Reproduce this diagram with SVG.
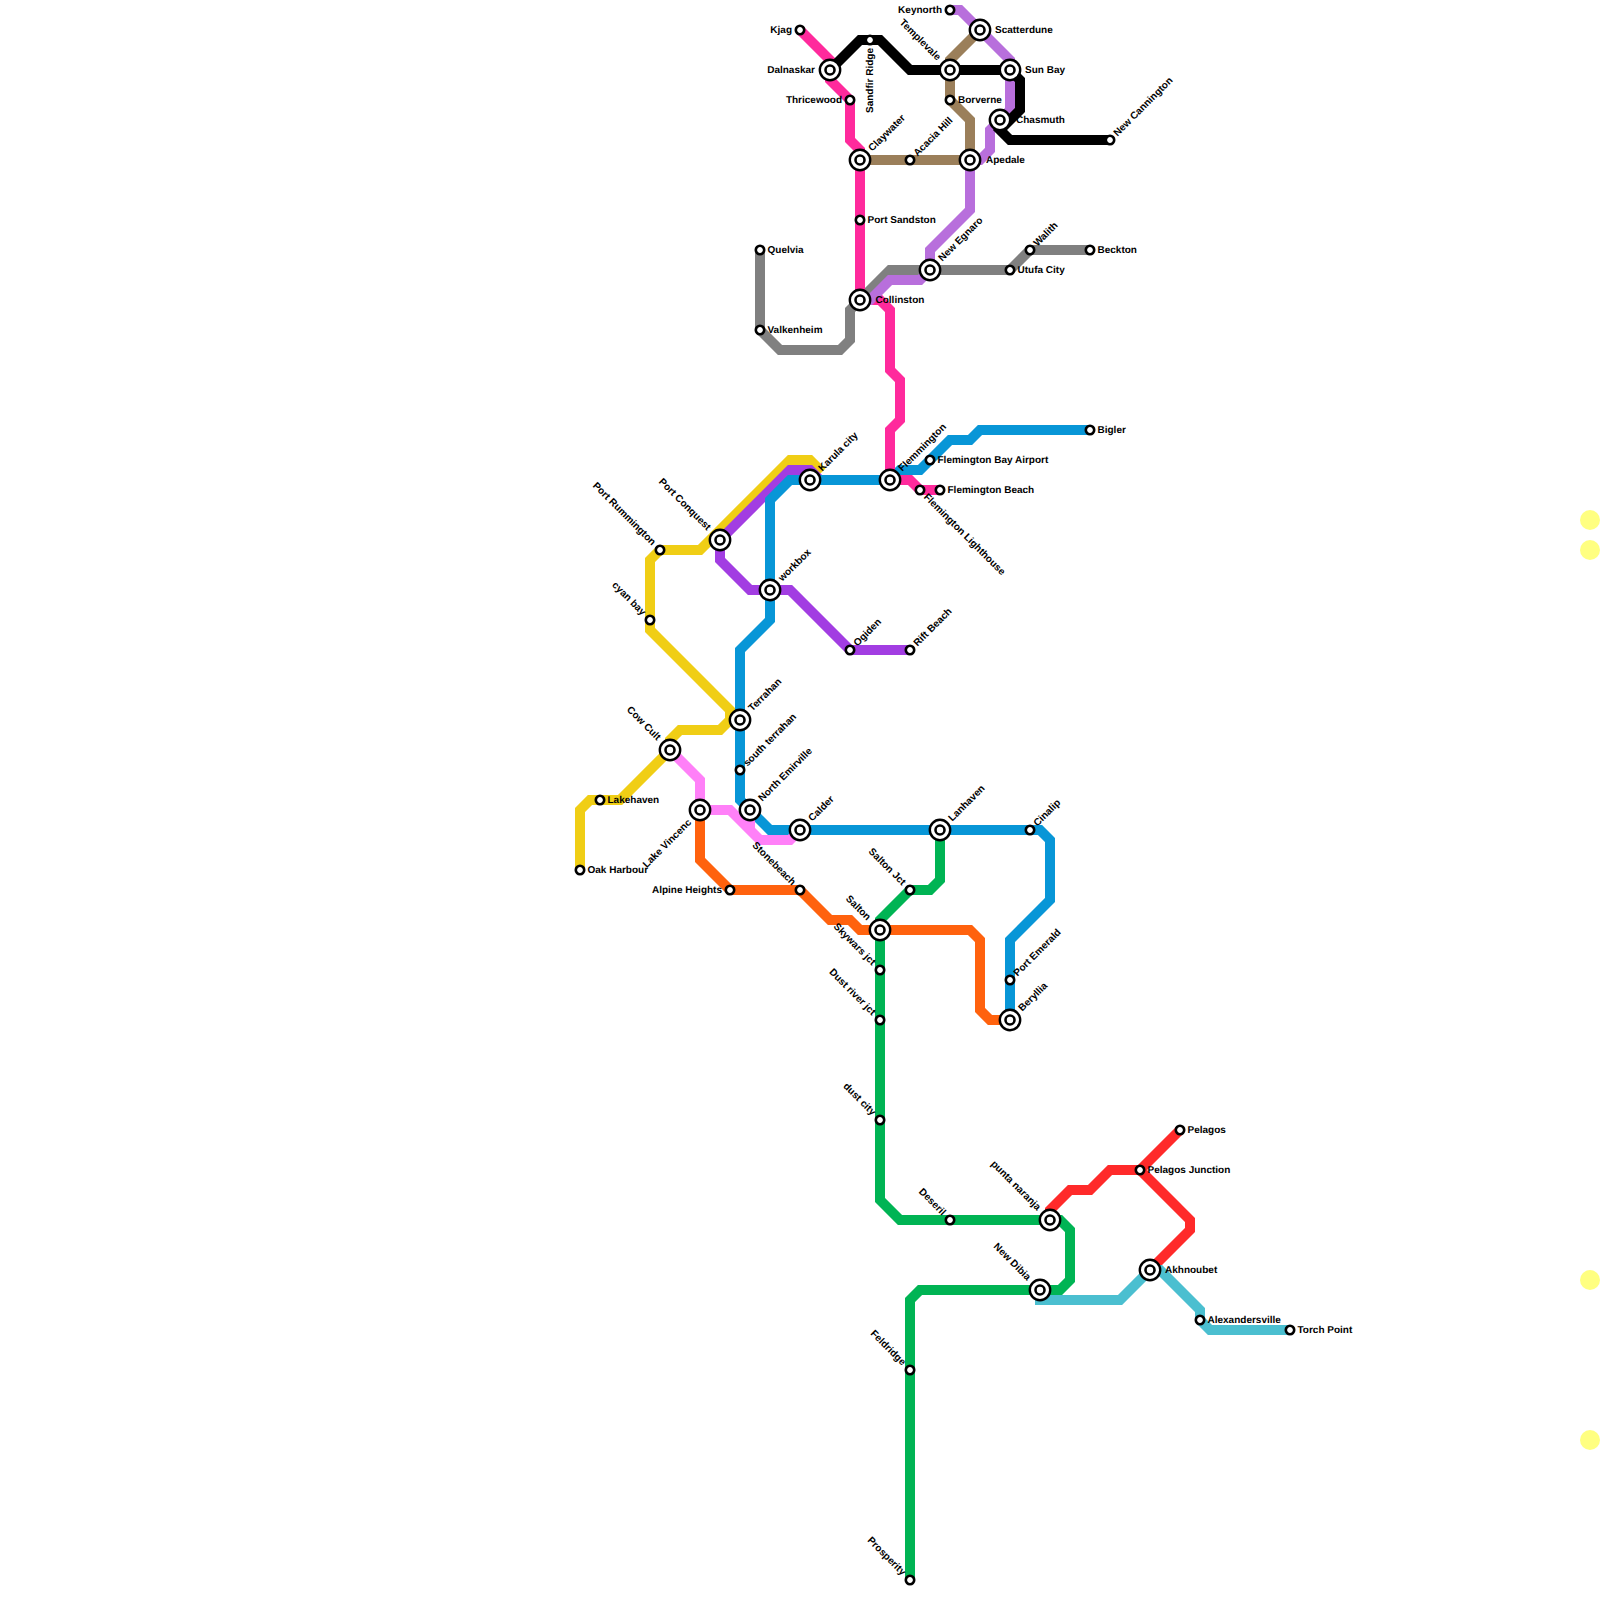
<svg xmlns="http://www.w3.org/2000/svg" width="1600" height="1600" viewBox="0 0 1600 1600">
<style>
.l{fill:none;stroke-width:10;stroke-linejoin:miter}
.s{fill:#fff;stroke:#000;stroke-width:2.600}
.o1{fill:#fff;stroke:#000;stroke-width:2.400}
.o2{fill:#fff;stroke:#000;stroke-width:2.600}
text{font-family:"Liberation Sans",Arial,sans-serif;font-size:10px;font-weight:bold;fill:#000;text-rendering:geometricPrecision}
.e{text-anchor:end}
.y{fill:#ffff80}
</style>
<defs>
<g id="st"><circle class="s" r="4.200"/></g>
<g id="ic"><circle class="o1" r="10.200"/><circle class="o2" r="4.500"/></g>
</defs>
<rect width="1600" height="1600" fill="#fff"/>
<circle class="y" cx="1590" cy="520" r="10"/>
<circle class="y" cx="1590" cy="550" r="10"/>
<circle class="y" cx="1590" cy="1280" r="10"/>
<circle class="y" cx="1590" cy="1440" r="10"/>
<g id="connectors">
<path class="l" stroke="#808080" d="M1090,250H1030L1010,270H890L860,300L850,310V340L840,350H780L760,330V250"/>
<path class="l" stroke="#f0ce15" d="M580,870V810L590,800H620L670,750V740L680,730H720L730,720V710L650,630V560L660,550H700L790,460H810L822,472"/>
<path class="l" stroke="#a23de2" d="M910,650H850L790,590H750L720,560V540L790,470H810L820,480"/>
<path class="l" stroke="#0896d7" d="M1090,430H980L970,440H950L920,470H900L890,480H790L770,500V620L740,650V800L770,830H1040L1050,840V900L1010,940V1020"/>
<path class="l" stroke="#ff2a9c" d="M800,30L830,60V80L850,100V140L860,150V300H880L890,310V370L900,380V420L890,430V480H910L920,490H940"/>
<path class="l" stroke="#b86fdc" d="M950,10H960L1010,60V110L990,130V150L980,160H970V210L930,250V270L920,280H890L870,300H860"/>
<path class="l" stroke="#9b7f5a" d="M980,30L950,60V100L970,120V160H860"/>
<path class="l" stroke="#000" d="M830,70L860,40H880L910,70H1010L1020,80V110L1000,130L1010,140H1110"/>
<path class="l" stroke="#ff80f8" d="M670,750L700,780V810H730L760,840H790L800,830M750,810V830"/>
<path class="l" stroke="#ff620e" d="M700,810V860L730,890H800L830,920H850L860,930H970L980,940V1010L990,1020H1010"/>
<path class="l" stroke="#00b454" d="M940,830V880L930,890H910L880,920V1200L900,1220H1060L1070,1230V1280L1060,1290H920L910,1300V1580"/>
<path class="l" stroke="#ff2a2a" d="M1050,1220V1210L1070,1190H1090L1110,1170H1140L1180,1130M1140,1170L1190,1220V1230L1150,1270"/>
<path class="l" stroke="#4bbfd0" d="M1040,1290V1300H1120L1150,1270H1160L1200,1310V1320L1210,1330H1290"/>
</g>
<g id="n-kjag"><use href="#st" x="800" y="30"/><text class="e" x="792" y="32.500">Kjag</text></g>
<g id="n-dalnaskar"><use href="#ic" x="830" y="70"/><text class="e" x="815" y="72.500">Dalnaskar</text></g>
<g id="n-thricewood"><use href="#st" x="850" y="100"/><text class="e" x="842" y="102.500">Thricewood</text></g>
<g id="n-sandfir"><use href="#st" x="870" y="40"/><text class="e" transform="translate(870,40) rotate(-90)" x="-8" y="3">Sandfir Ridge</text></g>
<g id="n-keynorth"><use href="#st" x="950" y="10"/><text class="e" x="942" y="12.500">Keynorth</text></g>
<g id="n-scatterdune"><use href="#ic" x="980" y="30"/><text x="995" y="32.500">Scatterdune</text></g>
<g id="n-templevale"><use href="#ic" x="950" y="70"/><text class="e" transform="translate(950,70) rotate(45)" x="-15.700" y="2.800">Templevale</text></g>
<g id="n-sunbay"><use href="#ic" x="1010" y="70"/><text x="1025" y="72.500">Sun Bay</text></g>
<g id="n-borverne"><use href="#st" x="950" y="100"/><text x="958" y="102.500">Borverne</text></g>
<g id="n-chasmuth"><use href="#ic" x="1000" y="120"/><text x="1016" y="122.500">Chasmuth</text></g>
<g id="n-newcannington"><use href="#st" x="1110" y="140"/><text transform="translate(1110,140) rotate(-45)" x="7.500" y="3">New Cannington</text></g>
<g id="n-claywater"><use href="#ic" x="860" y="160"/><text transform="translate(860,160) rotate(-45)" x="14.500" y="3">Claywater</text></g>
<g id="n-acacia"><use href="#st" x="910" y="160"/><text transform="translate(910,160) rotate(-45)" x="7.500" y="3">Acacia Hill</text></g>
<g id="n-apedale"><use href="#ic" x="970" y="160"/><text x="986" y="162.500">Apedale</text></g>
<g id="n-portsandston"><use href="#st" x="860" y="220"/><text x="867.500" y="222.500">Port Sandston</text></g>
<g id="n-quelvia"><use href="#st" x="760" y="250"/><text x="767.500" y="252.500">Quelvia</text></g>
<g id="n-walith"><use href="#st" x="1030" y="250"/><text transform="translate(1030,250) rotate(-45)" x="7.500" y="3">Walith</text></g>
<g id="n-beckton"><use href="#st" x="1090" y="250"/><text x="1097.500" y="252.500">Beckton</text></g>
<g id="n-newegnaro"><use href="#ic" x="930" y="270"/><text transform="translate(930,270) rotate(-45)" x="14.500" y="3">New Egnaro</text></g>
<g id="n-utufa"><use href="#st" x="1010" y="270"/><text x="1017.500" y="272.500">Utufa City</text></g>
<g id="n-collinston"><use href="#ic" x="860" y="300"/><text x="875.500" y="302.500">Collinston</text></g>
<g id="n-valkenheim"><use href="#st" x="760" y="330"/><text x="767.500" y="332.500">Valkenheim</text></g>
<g id="n-bigler"><use href="#st" x="1090" y="430"/><text x="1097.500" y="432.500">Bigler</text></g>
<g id="n-airport"><use href="#st" x="930" y="460"/><text x="937.500" y="462.500">Flemington Bay Airport</text></g>
<g id="n-flemmington"><use href="#ic" x="890" y="480"/><text transform="translate(890,480) rotate(-45)" x="14.500" y="3">Flemmington</text></g>
<g id="n-karula"><use href="#ic" x="810" y="480"/><text transform="translate(810,480) rotate(-45)" x="14.500" y="3">Karula city</text></g>
<g id="n-lighthouse"><use href="#st" x="920" y="490"/><text transform="translate(920,490) rotate(45)" x="7.500" y="3">Flemington Lighthouse</text></g>
<g id="n-beach"><use href="#st" x="940" y="490"/><text x="947.500" y="492.500">Flemington Beach</text></g>
<g id="n-portconquest"><use href="#ic" x="720" y="540"/><text class="e" transform="translate(720,540) rotate(45)" x="-15.700" y="2.800">Port Conquest</text></g>
<g id="n-portrummington"><use href="#st" x="660" y="550"/><text class="e" transform="translate(660,550) rotate(45)" x="-8.700" y="2.800">Port Rummington</text></g>
<g id="n-workbox"><use href="#ic" x="770" y="590"/><text transform="translate(770,590) rotate(-45)" x="14.500" y="3">workbox</text></g>
<g id="n-cyanbay"><use href="#st" x="650" y="620"/><text class="e" transform="translate(650,620) rotate(45)" x="-8.700" y="2.800">cyan bay</text></g>
<g id="n-ogiden"><use href="#st" x="850" y="650"/><text transform="translate(850,650) rotate(-45)" x="7.500" y="3">Ogiden</text></g>
<g id="n-riftbeach"><use href="#st" x="910" y="650"/><text transform="translate(910,650) rotate(-45)" x="7.500" y="3">Rift Beach</text></g>
<g id="n-terrahan"><use href="#ic" x="740" y="720"/><text transform="translate(740,720) rotate(-45)" x="14.500" y="3">Terrahan</text></g>
<g id="n-cowcult"><use href="#ic" x="670" y="750"/><text class="e" transform="translate(670,750) rotate(45)" x="-15.700" y="2.800">Cow Cult</text></g>
<g id="n-southterrahan"><use href="#st" x="740" y="770"/><text transform="translate(740,770) rotate(-45)" x="7.500" y="3">south terrahan</text></g>
<g id="n-lakehaven"><use href="#st" x="600" y="800"/><text x="607.500" y="802.500">Lakehaven</text></g>
<g id="n-lakevincenc"><use href="#ic" x="700" y="810"/><text class="e" transform="translate(700,810) rotate(-45)" x="-15" y="3.500">Lake Vincenc</text></g>
<g id="n-northemirville"><use href="#ic" x="750" y="810"/><text transform="translate(750,810) rotate(-45)" x="14.500" y="3">North Emirville</text></g>
<g id="n-calder"><use href="#ic" x="800" y="830"/><text transform="translate(800,830) rotate(-45)" x="14.500" y="3">Calder</text></g>
<g id="n-lanhaven"><use href="#ic" x="940" y="830"/><text transform="translate(940,830) rotate(-45)" x="14.500" y="3">Lanhaven</text></g>
<g id="n-cinalip"><use href="#st" x="1030" y="830"/><text transform="translate(1030,830) rotate(-45)" x="7.500" y="3">Cinalip</text></g>
<g id="n-oakharbour"><use href="#st" x="580" y="870"/><text x="587.500" y="872.500">Oak Harbour</text></g>
<g id="n-alpine"><use href="#st" x="730" y="890"/><text class="e" x="722" y="892.500">Alpine Heights</text></g>
<g id="n-stonebeach"><use href="#st" x="800" y="890"/><text class="e" transform="translate(800,890) rotate(45)" x="-8.700" y="2.800">Stonebeach</text></g>
<g id="n-saltonjct"><use href="#st" x="910" y="890"/><text class="e" transform="translate(910,890) rotate(45)" x="-8.700" y="2.800">Salton Jct</text></g>
<g id="n-salton"><use href="#ic" x="880" y="930"/><text class="e" transform="translate(880,930) rotate(45)" x="-15.700" y="2.800">Salton</text></g>
<g id="n-skywars"><use href="#st" x="880" y="970"/><text class="e" transform="translate(880,970) rotate(45)" x="-8.700" y="2.800">Skywars jct</text></g>
<g id="n-portemerald"><use href="#st" x="1010" y="980"/><text transform="translate(1010,980) rotate(-45)" x="7.500" y="3">Port Emerald</text></g>
<g id="n-dustriver"><use href="#st" x="880" y="1020"/><text class="e" transform="translate(880,1020) rotate(45)" x="-8.700" y="2.800">Dust river jct</text></g>
<g id="n-beryllia"><use href="#ic" x="1010" y="1020"/><text transform="translate(1010,1020) rotate(-45)" x="14.500" y="3">Beryllia</text></g>
<g id="n-dustcity"><use href="#st" x="880" y="1120"/><text class="e" transform="translate(880,1120) rotate(45)" x="-8.700" y="2.800">dust city</text></g>
<g id="n-pelagos"><use href="#st" x="1180" y="1130"/><text x="1187.500" y="1132.500">Pelagos</text></g>
<g id="n-pelagosjct"><use href="#st" x="1140" y="1170"/><text x="1147.500" y="1172.500">Pelagos Junction</text></g>
<g id="n-deseril"><use href="#st" x="950" y="1220"/><text class="e" transform="translate(950,1220) rotate(45)" x="-8.700" y="2.800">Deseril</text></g>
<g id="n-punta"><use href="#ic" x="1050" y="1220"/><text class="e" transform="translate(1050,1220) rotate(45)" x="-15.700" y="2.800">punta naranja</text></g>
<g id="n-akhnoubet"><use href="#ic" x="1150" y="1270"/><text x="1165" y="1272.500">Akhnoubet</text></g>
<g id="n-newdibia"><use href="#ic" x="1040" y="1290"/><text class="e" transform="translate(1040,1290) rotate(45)" x="-15.700" y="2.800">New Dibia</text></g>
<g id="n-alexandersville"><use href="#st" x="1200" y="1320"/><text x="1207.500" y="1322.500">Alexandersville</text></g>
<g id="n-torchpoint"><use href="#st" x="1290" y="1330"/><text x="1297.500" y="1332.500">Torch Point</text></g>
<g id="n-feldridge"><use href="#st" x="910" y="1370"/><text class="e" transform="translate(910,1370) rotate(45)" x="-8.700" y="2.800">Feldridge</text></g>
<g id="n-prosperity"><use href="#st" x="910" y="1580"/><text class="e" transform="translate(910,1580) rotate(45)" x="-8.700" y="2.800">Prosperity</text></g>
</svg>
